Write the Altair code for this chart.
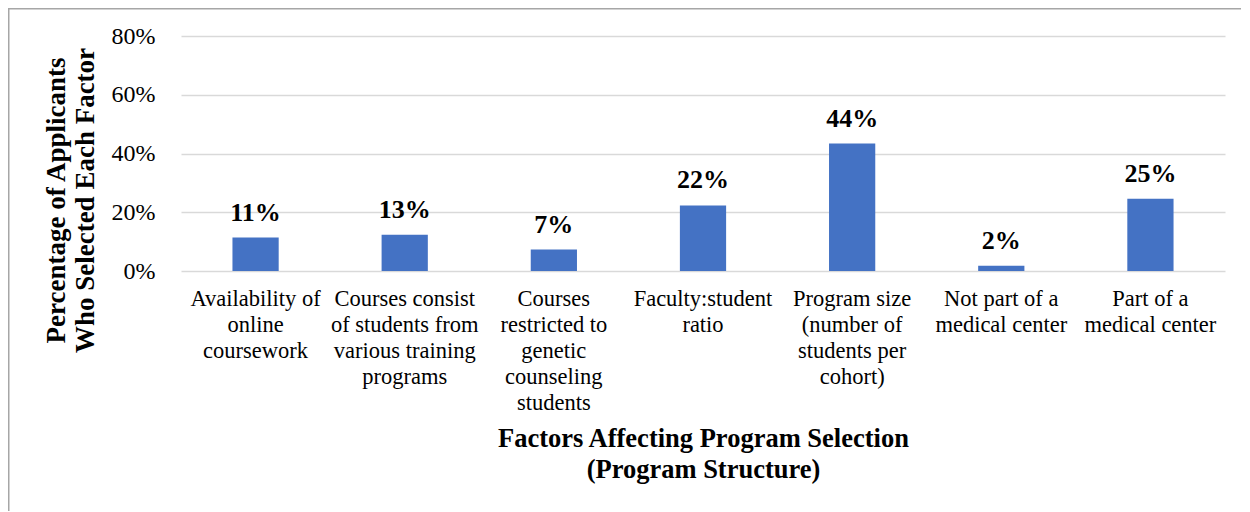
import altair as alt
import pandas as pd

categories = [
    "Availability of\nonline\ncoursework",
    "Courses consist\nof students from\nvarious training\nprograms",
    "Courses\nrestricted to\ngenetic\ncounseling\nstudents",
    "Faculty:student\nratio",
    "Program size\n(number of\nstudents per\ncohort)",
    "Not part of a\nmedical center",
    "Part of a\nmedical center",
]
values = [11.4, 12.3, 7.3, 22.3, 43.4, 1.8, 24.6]
labels = ["11%", "13%", "7%", "22%", "44%", "2%", "25%"]
y_ticks = [0, 20, 40, 60, 80]

df = pd.DataFrame({"cat": categories, "val": values, "lab": labels})

FONT = "Liberation Serif, Times New Roman, serif"

x_enc = alt.X(
    "cat:N",
    sort=categories,
    scale=alt.Scale(paddingInner=0.69, paddingOuter=0.345),
    axis=alt.Axis(
        title=["Factors Affecting Program Selection", "(Program Structure)"],
        labelExpr="split(datum.value, '\\n')",
        labelAngle=0,
        labelFont=FONT,
        labelFontSize=22.5,
        labelColor="#000000",
        labelLineHeight=26,
        labelBaseline="top",
        labelPadding=16,
        labelLimit=0,
        labelOverlap=False,
        labelFlush=False,
        domain=False,
        ticks=False,
        grid=False,
        titleFont=FONT,
        titleFontSize=26.5,
        titleFontWeight="bold",
        titleColor="#000000",
        titleLineHeight=31,
        titleBaseline="top",
        titleAnchor="middle",
        titleY=154,
    ),
)

y_enc = alt.Y(
    "val:Q",
    scale=alt.Scale(domain=[0, 80], nice=False),
    axis=alt.Axis(
        title=["Percentage of Applicants", "Who Selected Each Factor"],
        values=y_ticks,
        labelExpr="datum.value + '%'",
        labelFont=FONT,
        labelFontSize=24,
        labelColor="#000000",
        labelPadding=26,
        domain=False,
        ticks=False,
        grid=True,
        gridColor="#d9d9d9",
        gridWidth=1.5,
        titleFont=FONT,
        titleFontSize=27,
        titleFontWeight="bold",
        titleColor="#000000",
        titleLineHeight=29,
        titleAngle=270,
        titleAlign="center",
        titleBaseline="middle",
        titleX=-125,
        titleY=164,
    ),
)

bars = alt.Chart(df).mark_bar(color="#4472C4").encode(x=x_enc, y=y_enc)

text = alt.Chart(df).mark_text(
    dy=-17, baseline="alphabetic", font=FONT, fontSize=26, fontWeight="bold", color="#000000"
).encode(x=alt.X("cat:N", sort=categories), y="val:Q", text="lab:N")

frame = alt.Chart(pd.DataFrame({"f": [0]})).mark_rect(
    filled=False, stroke="#a6a6a6", strokeWidth=1.5
).encode(
    x=alt.value(-172.25), x2=alt.value(1200), y=alt.value(-27.25), y2=alt.value(600)
)

chart = alt.layer(frame, bars, text).properties(
    width=1044,
    height=235,
    padding={"left": 173, "top": 28, "right": 16, "bottom": 240},
    autosize="none",
    background="white",
).configure_view(stroke=None)

chart.save("out.html", embed_options={"renderer": "svg", "actions": False})
